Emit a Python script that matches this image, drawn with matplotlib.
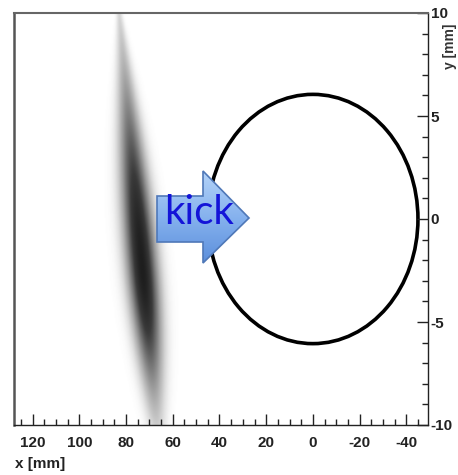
import numpy as np
import matplotlib
matplotlib.use("Agg")
import matplotlib.pyplot as plt
from matplotlib.patches import Ellipse, Polygon
from matplotlib.colors import LinearSegmentedColormap

plt.rcParams['font.family'] = ['Liberation Sans', 'DejaVu Sans']
plt.rcParams['axes.unicode_minus'] = False

# axis ranges (x axis is drawn reversed)
x_range = [128.0, -49.3]
y_range = [-10, 10]
x_major = [120, 100, 80, 60, 40, 20, 0, -20, -40]
y_major = [-10, -5, 0, 5, 10]

# beam spot (mm)
beam_x0 = 75.0        # centre in x at y = 0
beam_tilt = 0.8       # x shift per mm of y
beam_y0 = -2.5        # where the spot is darkest
beam_sy_up = 6.2
beam_sy_down = 4.0
beam_sx_max = 4.3     # widest near y = -2
beam_sx_at = -2.0
beam_sx_curv = 0.024

# acceptance ellipse
ell_centre = (0.0, 0.0)
ell_width = 90.0
ell_height = 12.1

fig = plt.figure(figsize=(4.58, 4.75), dpi=100)
W, H = 458.0, 475.0
ax = fig.add_axes([14 / W, 1 - 425 / H, (428 - 14) / W, (425 - 13) / H])

# density of the beam
xs = np.linspace(x_range[1], x_range[0], 500)
ys = np.linspace(y_range[0], y_range[1], 400)
X, Y = np.meshgrid(xs, ys)
sy = np.where(Y > beam_y0, beam_sy_up, beam_sy_down)
sx = np.clip(beam_sx_max - beam_sx_curv * (Y - beam_sx_at) ** 2, 0.8, None)
xc = beam_x0 + beam_tilt * Y
dens = np.exp(-(Y - beam_y0) ** 2 / (2 * sy ** 2)) * np.exp(-(X - xc) ** 2 / (2 * sx ** 2))
greys = LinearSegmentedColormap.from_list(
    'g', [(0, '#ffffff'), (0.06, '#ececec'), (0.2, '#c4c4c4'),
          (0.45, '#858585'), (0.75, '#3a3a3a'), (1, '#1e1e1e')])
ax.imshow(dens, extent=(xs[0], xs[-1], ys[0], ys[-1]), origin='lower',
          cmap=greys, vmin=0.0, vmax=1.0, aspect='auto', interpolation='bilinear')

ax.add_patch(Ellipse(ell_centre, ell_width, ell_height, fill=False, lw=2.6, color='black'))

ax.set_xlim(x_range)
ax.set_ylim(y_range)
ax.set_xticks(x_major)
ax.set_xticks(np.arange(-45, 130, 5), minor=True)
ax.set_yticks(y_major)
ax.set_yticks(np.arange(-10, 11, 1), minor=True)
ax.tick_params(axis='x', which='both', direction='in', bottom=True, top=False,
               labelsize=11, pad=8, colors='#222222')
ax.tick_params(axis='y', which='both', direction='in', left=False, right=True,
               labelleft=False, labelright=True, labelsize=11, pad=2, colors='#222222')
ax.tick_params(which='major', length=8, width=1)
ax.tick_params(which='minor', length=4, width=1)
for lab in ax.get_xticklabels() + ax.get_yticklabels():
    lab.set_fontweight('bold')

ax.spines['left'].set_linewidth(1.8)
ax.spines['left'].set_color('#555555')
ax.spines['top'].set_linewidth(1.5)
ax.spines['top'].set_color('#666666')
ax.spines['right'].set_linewidth(1.0)
ax.spines['right'].set_color('#222222')
ax.spines['bottom'].set_linewidth(1.0)
ax.spines['bottom'].set_color('#222222')

fig.text(15 / W, 1 - 464 / H, 'x [mm]', fontsize=11, fontweight='bold',
         ha='left', va='center', color='#222222')
fig.text(457 / W, 1 - 24 / H, 'y [mm]', fontsize=10, fontweight='bold', rotation=90,
         ha='right', va='top', color='#333333')

# "kick" arrow, drawn in pixel coordinates
ov = fig.add_axes([0, 0, 1, 1], zorder=5)
ov.patch.set_alpha(0)
ov.axis('off')
arrow_pts = [(157, 196), (203, 196), (203, 171), (249, 218),
             (203, 263), (203, 242), (157, 242)]
poly = Polygon(arrow_pts, closed=True, fc='none', ec='#4f78b8', lw=1.2, zorder=3)
ov.add_patch(poly)
blue = LinearSegmentedColormap.from_list('b', ['#b3d3f8', '#86b2ee', '#5c8fdc'])
img = ov.imshow(np.linspace(0, 1, 100).reshape(-1, 1), extent=(157, 249, 263, 171),
                cmap=blue, aspect='auto', zorder=2)
img.set_clip_path(poly)
ov.text(199, 213, 'kick', fontsize=29, color='#1414d8', family=['Lato', 'DejaVu Sans'],
        ha='center', va='center', zorder=4)
ov.set_xlim(0, W)
ov.set_ylim(H, 0)

fig.savefig('out.png', dpi=100)
